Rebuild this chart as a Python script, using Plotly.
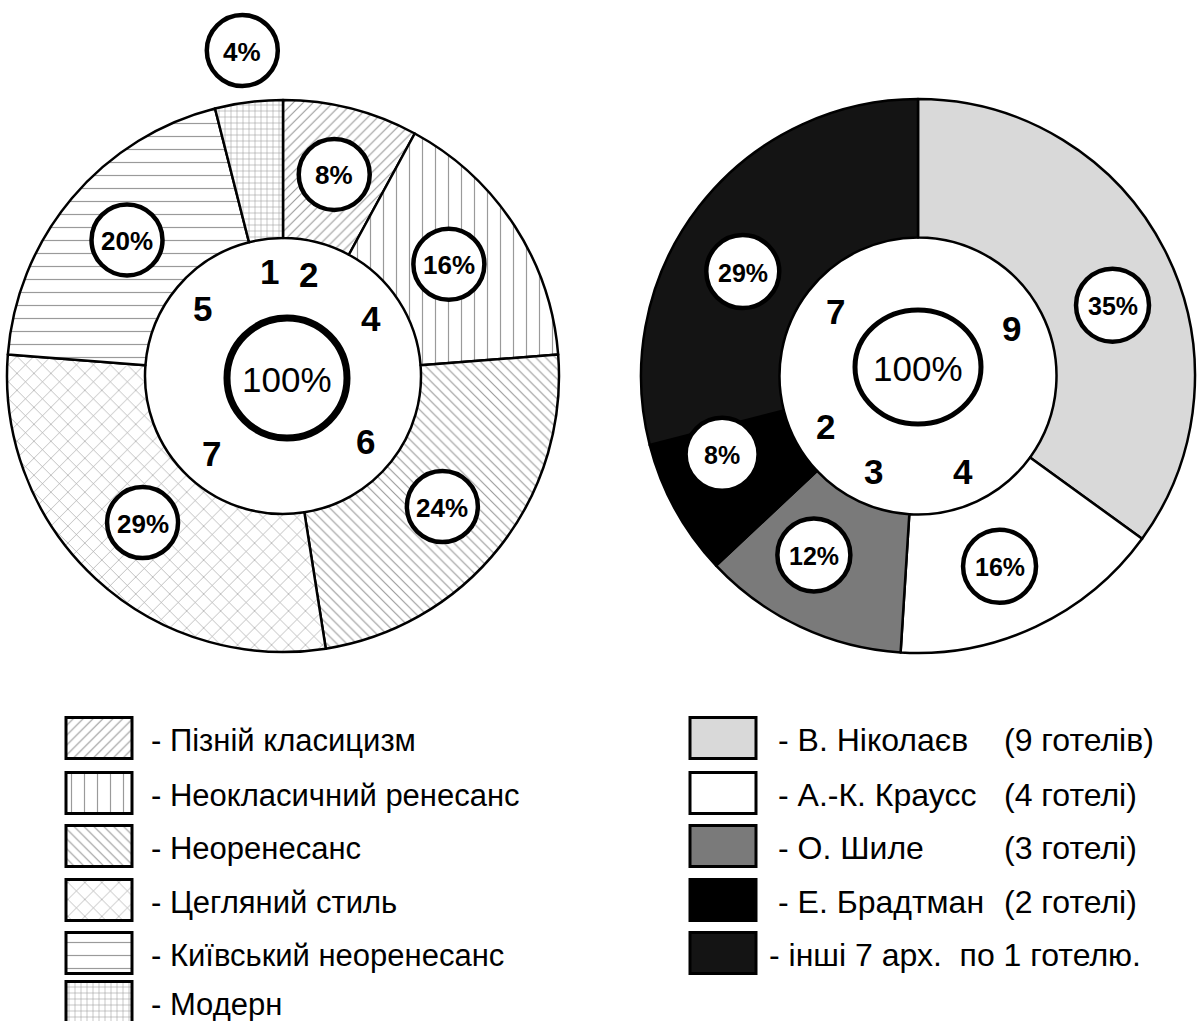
import math
import plotly.graph_objects as go

W, H = 1197, 1021

# Left donut: architectural styles of the hotels
style_names = ["Пізній класицизм", "Неокласичний ренесанс", "Неоренесанс",
               "Цегляний стиль", "Київський неоренесанс", "Модерн"]
style_counts = [2, 4, 6, 7, 5, 1]
style_shares = [8, 16, 24, 29, 20, 4]
style_patterns = ["/", "|", "\\", "x", "-", "+"]

# Right donut: architects of the hotels
arch_names = ["В. Ніколаєв", "А.-К. Краусс", "О. Шиле", "Е. Брадтман", "інші 7 арх."]
arch_counts = [9, 4, 3, 2, 7]
arch_shares = [35, 16, 12, 8, 29]
arch_count_text = ["(9 готелів)", "(4 готелі)", "(3 готелі)", "(2 готелі)", "по 1 готелю."]
arch_colors = ["#d9d9d9", "#ffffff", "#7a7a7a", "#000000", "#141414"]

FONT = "Liberation Sans, Arial, sans-serif"

# geometry of the two donuts (pixels)
L_CX, L_CY, L_R = 283, 376, 276
R_CX, R_CY, R_R = 918, 376, 277
HOLE = 0.5

# hatch spacing / line weight for each style pattern
pattern_sizes = [7, 13, 7, 12, 13, 6]
pattern_solid = [0.16, 0.09, 0.16, 0.1, 0.09, 0.18]

# placement tweaks for the share labels: (radius, angle offset in degrees)
style_lab_pos = [(208, 0), (200, -1), (206, 1), (203, 1), (207, 1), (328, 0)]
arch_lab_pos = [(207, 7), (207, 2), (207, 5), (211, 7), (204, -7)]
NUM_R = 105


def mid_angles(values):
    tot = float(sum(values))
    out, acc = [], 0.0
    for v in values:
        out.append((acc + v / 2.0) / tot * 360.0)
        acc += v
    return out


def polar(cx, cy, r, ang):
    a = math.radians(ang)
    return cx + r * math.sin(a), cy - r * math.cos(a)


def pie_domain(cx, cy, r):
    return dict(x=[(cx - r) / W, (cx + r) / W], y=[(H - cy - r) / H, (H - cy + r) / H])


style_pattern = dict(shape=style_patterns, fgcolor="#9a9a9a", bgcolor="#ffffff",
                     size=pattern_sizes, solidity=pattern_solid, fillmode="replace")

fig = go.Figure()

fig.add_trace(go.Pie(
    values=style_shares, labels=style_names, sort=False, direction="clockwise",
    rotation=0, hole=HOLE, textinfo="none", hoverinfo="label+value",
    domain=pie_domain(L_CX, L_CY, L_R), showlegend=False,
    marker=dict(colors=["#ffffff"] * len(style_shares),
                line=dict(color="#000000", width=2.5), pattern=style_pattern),
))

fig.add_trace(go.Pie(
    values=arch_shares, labels=arch_names, sort=False, direction="clockwise",
    rotation=0, hole=HOLE, textinfo="none", hoverinfo="label+value",
    domain=pie_domain(R_CX, R_CY, R_R), showlegend=False,
    marker=dict(colors=arch_colors, line=dict(color="#000000", width=2.5)),
))

shapes = []
annotations = []


def ring_label(x, y, r, text, lw, size):
    shapes.append(dict(type="circle", xref="x", yref="y", x0=x - r, x1=x + r,
                       y0=y - r, y1=y + r, fillcolor="#ffffff",
                       line=dict(color="#000000", width=lw), layer="above"))
    annotations.append(dict(x=x, y=y + 1, xref="x", yref="y", text=f"<b>{text}</b>",
                            showarrow=False, font=dict(family=FONT, size=size, color="#000")))


# share labels and counts, left donut
for share, cnt, ang, (rr, off) in zip(style_shares, style_counts, mid_angles(style_shares), style_lab_pos):
    x, y = polar(L_CX, L_CY, rr, ang + off)
    ring_label(x, y, 35.5, f"{share}%", 4.5, 26)
    nx, ny = polar(L_CX, L_CY, NUM_R, ang)
    annotations.append(dict(x=nx, y=ny, xref="x", yref="y", text=f"<b>{cnt}</b>",
                            showarrow=False, font=dict(family=FONT, size=35, color="#000")))

# share labels and counts, right donut
for share, cnt, ang, (rr, off) in zip(arch_shares, arch_counts, mid_angles(arch_shares), arch_lab_pos):
    x, y = polar(R_CX, R_CY, rr, ang + off)
    ring_label(x, y, 36.5, f"{share}%", 4.5, 25)
    nx, ny = polar(R_CX, R_CY, NUM_R, ang)
    annotations.append(dict(x=nx, y=ny, xref="x", yref="y", text=f"<b>{cnt}</b>",
                            showarrow=False, font=dict(family=FONT, size=35, color="#000")))

# centre totals
for cx, cy, rx, ry, lw in [(287, 378, 60, 60, 7), (918, 367, 63, 57, 5)]:
    shapes.append(dict(type="circle", xref="x", yref="y", x0=cx - rx, x1=cx + rx,
                       y0=cy - ry, y1=cy + ry, fillcolor="#ffffff",
                       line=dict(color="#000000", width=lw), layer="above"))
    annotations.append(dict(x=cx, y=cy + 1, xref="x", yref="y", text="100%", showarrow=False,
                            font=dict(family=FONT, size=35, color="#000")))

# legend swatches
ROW_Y = [738, 793, 846, 900, 953, 1002]
BOX_W, BOX_H = 66, 41

fig.add_trace(go.Bar(
    x=[99] * len(style_names), y=[BOX_H] * len(style_names),
    base=[ROW_Y[i] - BOX_H / 2 for i in range(len(style_names))],
    width=[BOX_W] * len(style_names), showlegend=False, hoverinfo="skip",
    marker=dict(color="#ffffff", line=dict(color="#000000", width=3), pattern=style_pattern),
))
fig.add_trace(go.Bar(
    x=[723] * len(arch_names), y=[BOX_H] * len(arch_names),
    base=[ROW_Y[i] - BOX_H / 2 for i in range(len(arch_names))],
    width=[BOX_W] * len(arch_names), showlegend=False, hoverinfo="skip",
    marker=dict(color=arch_colors, line=dict(color="#000000", width=3)),
))

LEG_FONT = dict(family=FONT, size=31, color="#000")
LEG_FONT_R = dict(family=FONT, size=32, color="#000")

for i, name in enumerate(style_names):
    annotations.append(dict(x=149, y=ROW_Y[i] + 2, xref="x", yref="y", xanchor="left",
                            text=f"- {name}", showarrow=False, font=LEG_FONT))

for i, name in enumerate(arch_names):
    if i < len(arch_names) - 1:
        annotations.append(dict(x=776, y=ROW_Y[i] + 2, xref="x", yref="y", xanchor="left",
                                text=f"- {name}", showarrow=False, font=LEG_FONT_R))
        annotations.append(dict(x=1002, y=ROW_Y[i] + 2, xref="x", yref="y", xanchor="left",
                                text=arch_count_text[i], showarrow=False, font=LEG_FONT_R))
    else:
        annotations.append(dict(x=767, y=ROW_Y[i] + 2, xref="x", yref="y", xanchor="left",
                                text=f"- {name}\u00a0\u00a0{arch_count_text[i]}", showarrow=False,
                                font=LEG_FONT_R))

fig.update_layout(
    width=W, height=H, margin=dict(l=0, r=0, t=0, b=0),
    paper_bgcolor="#ffffff", plot_bgcolor="#ffffff", barmode="overlay",
    xaxis=dict(range=[0, W], visible=False, fixedrange=True),
    yaxis=dict(range=[H, 0], visible=False, fixedrange=True),
    shapes=shapes, annotations=annotations,
)

fig.write_html("out.html")
